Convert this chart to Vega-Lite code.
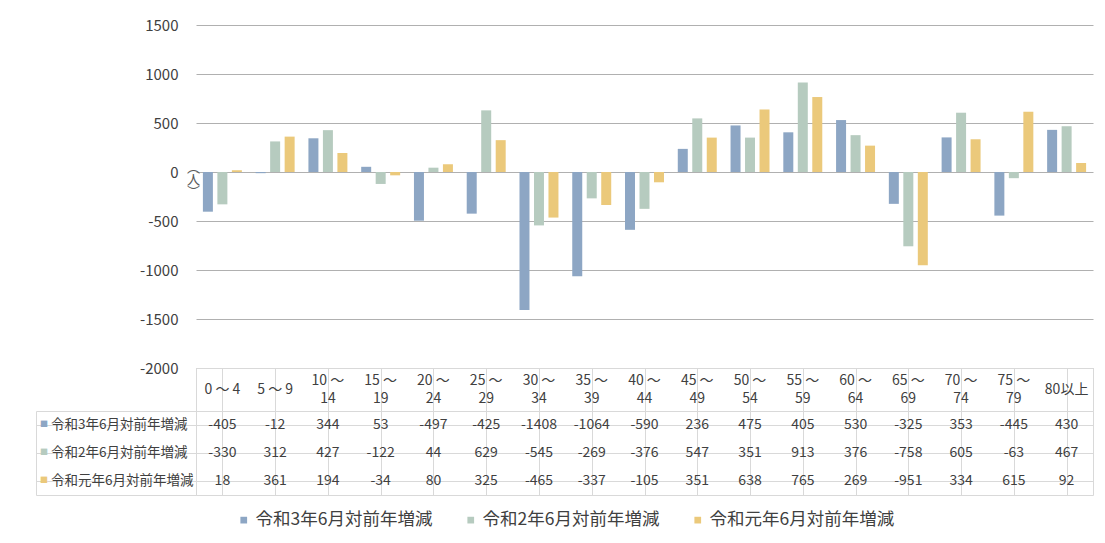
{
  "$schema": "https://vega.github.io/schema/vega-lite/v6.json",
  "padding": {"left": 35, "top": 18, "right": 5, "bottom": 5},
  "background": "white",
  "datasets": {
    "d": [
      {"cat": "0 ～ 4", "series": "令和3年6月対前年増減", "value": -405},
      {"cat": "0 ～ 4", "series": "令和2年6月対前年増減", "value": -330},
      {"cat": "0 ～ 4", "series": "令和元年6月対前年増減", "value": 18},
      {"cat": "5 ～ 9", "series": "令和3年6月対前年増減", "value": -12},
      {"cat": "5 ～ 9", "series": "令和2年6月対前年増減", "value": 312},
      {"cat": "5 ～ 9", "series": "令和元年6月対前年増減", "value": 361},
      {"cat": "10 ～\n14", "series": "令和3年6月対前年増減", "value": 344},
      {"cat": "10 ～\n14", "series": "令和2年6月対前年増減", "value": 427},
      {"cat": "10 ～\n14", "series": "令和元年6月対前年増減", "value": 194},
      {"cat": "15 ～\n19", "series": "令和3年6月対前年増減", "value": 53},
      {"cat": "15 ～\n19", "series": "令和2年6月対前年増減", "value": -122},
      {"cat": "15 ～\n19", "series": "令和元年6月対前年増減", "value": -34},
      {"cat": "20 ～\n24", "series": "令和3年6月対前年増減", "value": -497},
      {"cat": "20 ～\n24", "series": "令和2年6月対前年増減", "value": 44},
      {"cat": "20 ～\n24", "series": "令和元年6月対前年増減", "value": 80},
      {"cat": "25 ～\n29", "series": "令和3年6月対前年増減", "value": -425},
      {"cat": "25 ～\n29", "series": "令和2年6月対前年増減", "value": 629},
      {"cat": "25 ～\n29", "series": "令和元年6月対前年増減", "value": 325},
      {"cat": "30 ～\n34", "series": "令和3年6月対前年増減", "value": -1408},
      {"cat": "30 ～\n34", "series": "令和2年6月対前年増減", "value": -545},
      {"cat": "30 ～\n34", "series": "令和元年6月対前年増減", "value": -465},
      {"cat": "35 ～\n39", "series": "令和3年6月対前年増減", "value": -1064},
      {"cat": "35 ～\n39", "series": "令和2年6月対前年増減", "value": -269},
      {"cat": "35 ～\n39", "series": "令和元年6月対前年増減", "value": -337},
      {"cat": "40 ～\n44", "series": "令和3年6月対前年増減", "value": -590},
      {"cat": "40 ～\n44", "series": "令和2年6月対前年増減", "value": -376},
      {"cat": "40 ～\n44", "series": "令和元年6月対前年増減", "value": -105},
      {"cat": "45 ～\n49", "series": "令和3年6月対前年増減", "value": 236},
      {"cat": "45 ～\n49", "series": "令和2年6月対前年増減", "value": 547},
      {"cat": "45 ～\n49", "series": "令和元年6月対前年増減", "value": 351},
      {"cat": "50 ～\n54", "series": "令和3年6月対前年増減", "value": 475},
      {"cat": "50 ～\n54", "series": "令和2年6月対前年増減", "value": 351},
      {"cat": "50 ～\n54", "series": "令和元年6月対前年増減", "value": 638},
      {"cat": "55 ～\n59", "series": "令和3年6月対前年増減", "value": 405},
      {"cat": "55 ～\n59", "series": "令和2年6月対前年増減", "value": 913},
      {"cat": "55 ～\n59", "series": "令和元年6月対前年増減", "value": 765},
      {"cat": "60 ～\n64", "series": "令和3年6月対前年増減", "value": 530},
      {"cat": "60 ～\n64", "series": "令和2年6月対前年増減", "value": 376},
      {"cat": "60 ～\n64", "series": "令和元年6月対前年増減", "value": 269},
      {"cat": "65 ～\n69", "series": "令和3年6月対前年増減", "value": -325},
      {"cat": "65 ～\n69", "series": "令和2年6月対前年増減", "value": -758},
      {"cat": "65 ～\n69", "series": "令和元年6月対前年増減", "value": -951},
      {"cat": "70 ～\n74", "series": "令和3年6月対前年増減", "value": 353},
      {"cat": "70 ～\n74", "series": "令和2年6月対前年増減", "value": 605},
      {"cat": "70 ～\n74", "series": "令和元年6月対前年増減", "value": 334},
      {"cat": "75 ～\n79", "series": "令和3年6月対前年増減", "value": -445},
      {"cat": "75 ～\n79", "series": "令和2年6月対前年増減", "value": -63},
      {"cat": "75 ～\n79", "series": "令和元年6月対前年増減", "value": 615},
      {"cat": "80以上", "series": "令和3年6月対前年増減", "value": 430},
      {"cat": "80以上", "series": "令和2年6月対前年増減", "value": 467},
      {"cat": "80以上", "series": "令和元年6月対前年増減", "value": 92}
    ]
  },
  "data": {"name": "d"},
  "columns": 2,
  "spacing": 0,
  "bounds": "flush",
  "align": "each",
  "concat": [
    {
      "width": 160, "height": 343,
      "data": {"values": [{}]},
      "mark": {"type": "text"},
      "encoding": {"text": {"value": ""}}
    },
    {
      "width": 897, "height": 343,
      "mark": {"type": "bar"},
      "encoding": {
        "x": {"field": "cat", "type": "nominal", "sort": null, "scale": {"paddingInner": 0, "paddingOuter": 0}, "axis": null},
        "xOffset": {"field": "series", "type": "nominal", "sort": null, "scale": {"domain": ["令和3年6月対前年増減", "令和2年6月対前年増減", "令和元年6月対前年増減"], "paddingInner": 0.31, "paddingOuter": 0.476}},
        "y": {"field": "value", "type": "quantitative", "scale": {"domain": [-2000, 1500], "nice": false},
          "axis": {"values": [-2000, -1500, -1000, -500, 0, 500, 1000, 1500], "format": "d", "grid": true, "gridColor": "#b0b0b0", "domain": false, "ticks": false, "labelFontSize": 15, "labelColor": "#404040", "labelPadding": 18,
            "title": ["︵", "人", "︶"], "titleAngle": 0, "titleX": -3, "titleY": 136, "titleFontSize": 13, "titleFontWeight": "normal", "titleColor": "#595959", "titleAlign": "center", "titleBaseline": "top", "titleLineHeight": 12}},
        "color": {"field": "series", "type": "nominal", "sort": null,
          "scale": {"domain": ["令和3年6月対前年増減", "令和2年6月対前年増減", "令和元年6月対前年増減"], "range": ["#8DA6C4", "#B6CBBF", "#EBC97B"]},
          "legend": {"orient": "none", "legendX": 199, "legendY": 486, "direction": "horizontal", "title": null, "symbolType": "square", "symbolSize": 45, "symbolStrokeWidth": 0, "labelFontSize": 17.5, "labelLimit": 400, "labelColor": "#404040", "columnPadding": 29, "labelOffset": 3}}
      }
    },
    {
      "width": 160, "height": 43,
      "data": {"values": [{}]},
      "mark": {"type": "text"},
      "encoding": {"text": {"value": ""}}
    },
    {
      "width": 897, "height": 43,
      "transform": [{"filter": "datum.series === '令和3年6月対前年増減'"}],
      "view": {"stroke": "#d9d9d9"},
      "encoding": {
        "x": {"field": "cat", "type": "nominal", "sort": null, "scale": {"domain": ["0 ～ 4", "5 ～ 9", "10 ～\n14", "15 ～\n19", "20 ～\n24", "25 ～\n29", "30 ～\n34", "35 ～\n39", "40 ～\n44", "45 ～\n49", "50 ～\n54", "55 ～\n59", "60 ～\n64", "65 ～\n69", "70 ～\n74", "75 ～\n79", "80以上"], "paddingInner": 0, "paddingOuter": 0},
          "axis": {"grid": true, "bandPosition": 0, "gridColor": "#d9d9d9", "labels": false, "ticks": false, "domain": false, "title": null}},
        "text": {"field": "cat"}
      },
      "layer": [
        {"transform": [{"filter": "indexof(datum.cat, '\\n') < 0"}],
          "mark": {"type": "text", "fontSize": 14, "color": "#404040", "baseline": "middle"}},
        {"transform": [{"filter": "indexof(datum.cat, '\\n') >= 0"}],
          "mark": {"type": "text", "fontSize": 14, "color": "#404040", "lineBreak": "\n", "lineHeight": 18, "baseline": "middle", "dy": -9}}
      ]
    },
    {
      "width": 160, "height": 84,
      "transform": [{"filter": "datum.cat === '0 ～ 4'"}],
      "view": {"stroke": "#d9d9d9"},
      "encoding": {
        "y": {"field": "series", "type": "nominal", "sort": null,
          "scale": {"domain": ["令和3年6月対前年増減", "令和2年6月対前年増減", "令和元年6月対前年増減"], "paddingInner": 0, "paddingOuter": 0},
          "axis": {"grid": true, "bandPosition": 0, "gridColor": "#d9d9d9", "labels": false, "ticks": false, "domain": false, "title": null}}
      },
      "layer": [
        {"mark": {"type": "text", "fontSize": 13.5, "color": "#404040", "align": "left", "dx": -65}, "encoding": {"text": {"field": "series"}}},
        {"mark": {"type": "text", "fontSize": 8, "text": "■", "dx": -72},
          "encoding": {"fill": {"field": "series", "type": "nominal", "scale": {"domain": ["令和3年6月対前年増減", "令和2年6月対前年増減", "令和元年6月対前年増減"], "range": ["#8DA6C4", "#B6CBBF", "#EBC97B"]}, "legend": null}}}
      ]
    },
    {
      "width": 897, "height": 84,
      "view": {"stroke": "#d9d9d9"},
      "mark": {"type": "text", "fontSize": 14, "color": "#404040"},
      "encoding": {
        "x": {"field": "cat", "type": "nominal", "sort": null, "scale": {"paddingInner": 0, "paddingOuter": 0},
          "axis": {"grid": true, "bandPosition": 0, "gridColor": "#d9d9d9", "labels": false, "ticks": false, "domain": false, "title": null}},
        "y": {"field": "series", "type": "nominal", "sort": null,
          "scale": {"domain": ["令和3年6月対前年増減", "令和2年6月対前年増減", "令和元年6月対前年増減"], "paddingInner": 0, "paddingOuter": 0},
          "axis": {"grid": true, "bandPosition": 0, "gridColor": "#d9d9d9", "labels": false, "ticks": false, "domain": false, "title": null}},
        "text": {"field": "value", "type": "nominal"}
      }
    }
  ],
  "config": {
    "font": "Noto Sans CJK JP",
    "view": {"stroke": null},
    "locale": {"number": {"decimal": ".", "thousands": ",", "grouping": [3], "currency": ["$", ""], "minus": "-"}}
  }
}
